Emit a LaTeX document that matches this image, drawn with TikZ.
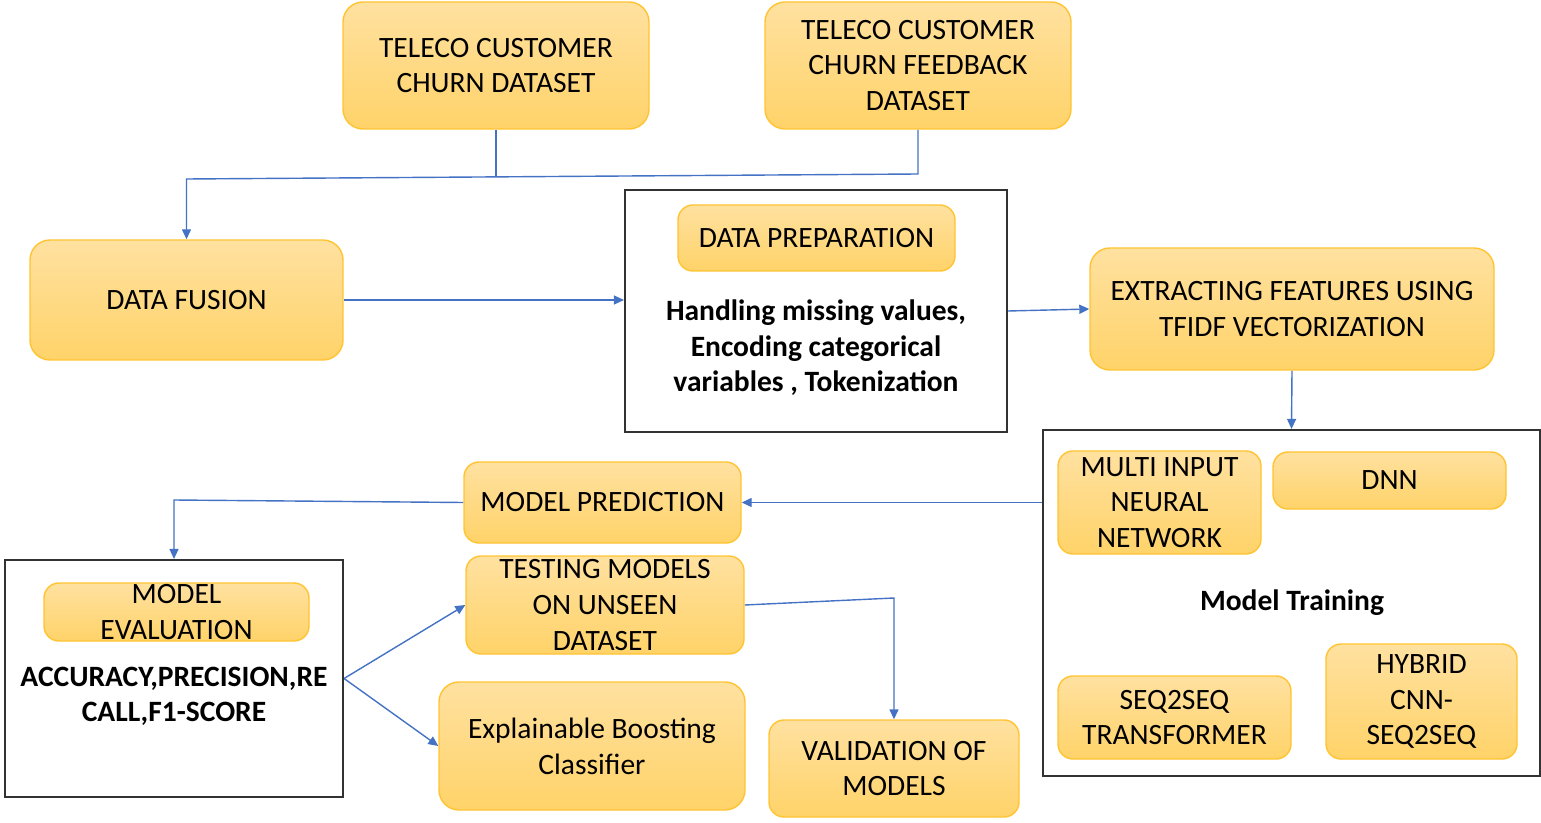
\documentclass[tikz,border=0pt]{standalone}
\usepackage{fontspec}
\setmainfont{Carlito}
\usetikzlibrary{arrows.meta}
\pgfdeclarelayer{edgelayer}
\pgfdeclarelayer{nodelayer}
\pgfsetlayers{edgelayer,nodelayer,main}
\definecolor{boxtop}{RGB}{255,225,160}
\definecolor{boxbottom}{RGB}{255,211,105}
\definecolor{boxborder}{RGB}{255,196,50}
\definecolor{edgeblue}{RGB}{68,114,196}
\definecolor{framegray}{RGB}{50,50,50}
\newcommand{\boxfont}{\fontsize{8.4}{10.2}\selectfont}
\newcommand{\boldboxfont}{\fontsize{8.4}{10.1}\selectfont\bfseries}
\tikzstyle{blueedge}=[draw=edgeblue, line width=0.4pt]
\tikzstyle{arrowedge}=[draw=edgeblue, line width=0.4pt, -{Triangle[length=1mm,width=0.9mm]}]
\tikzstyle{orangebox}=[rectangle, rounded corners=0.15cm, draw=boxborder, top color=boxtop, bottom color=boxbottom, align=center, inner sep=0pt, font=\boxfont]
\tikzstyle{frame}=[rectangle, draw=framegray, fill=white, line width=0.6pt, inner sep=0pt]
\tikzstyle{boldtext}=[align=center, inner sep=0pt, font=\boldboxfont]

\begin{document}
\begin{tikzpicture}
	\useasboundingbox (0,0) rectangle (15.41,-8.23);
	\begin{pgfonlayer}{nodelayer}
		\node [style=orangebox, rounded corners=0.2cm, minimum width=3.06cm, minimum height=1.27cm] (1) at (4.96, -0.655) {TELECO CUSTOMER\\CHURN DATASET};
		\node [style=orangebox, rounded corners=0.2cm, minimum width=3.06cm, minimum height=1.27cm] (2) at (9.18, -0.655) {TELECO CUSTOMER\\CHURN FEEDBACK\\DATASET};
		\node [style=orangebox, rounded corners=0.2cm, minimum width=3.13cm, minimum height=1.2cm] (3) at (1.865, -3.0) {DATA FUSION};
		\node [style=frame, minimum width=3.82cm, minimum height=2.42cm] (4) at (8.16, -3.11) {};
		\node [style=orangebox, minimum width=2.77cm, minimum height=0.66cm] (5) at (8.165, -2.38) {DATA PREPARATION};
		\node [style=boldtext] (6) at (8.16, -3.48) {Handling missing values,\\Encoding categorical\\variables , Tokenization};
		\node [style=orangebox, rounded corners=0.2cm, minimum width=4.04cm, minimum height=1.22cm] (7) at (12.92, -3.09) {EXTRACTING FEATURES USING\\TFIDF VECTORIZATION};
		\node [style=frame, minimum width=4.97cm, minimum height=3.46cm] (8) at (12.915, -6.03) {};
		\node [style=orangebox, minimum width=2.03cm, minimum height=1.03cm] (9) at (11.595, -5.025) {MULTI INPUT\\NEURAL\\NETWORK};
		\node [style=orangebox, minimum width=2.33cm, minimum height=0.57cm] (10) at (13.895, -4.805) {DNN};
		\node [style=boldtext] (11) at (12.92, -6.03) {Model Training};
		\node [style=orangebox, minimum width=2.33cm, minimum height=0.83cm] (12) at (11.745, -7.175) {SEQ2SEQ\\TRANSFORMER};
		\node [style=orangebox, minimum width=1.91cm, minimum height=1.15cm] (13) at (14.215, -7.015) {HYBRID\\CNN-\\SEQ2SEQ};
		\node [style=orangebox, minimum width=2.77cm, minimum height=0.81cm] (14) at (6.025, -5.025) {MODEL PREDICTION};
		\node [style=frame, minimum width=3.38cm, minimum height=2.37cm] (15) at (1.74, -6.785) {};
		\node [style=orangebox, minimum width=2.65cm, minimum height=0.58cm] (16) at (1.765, -6.12) {MODEL\\EVALUATION};
		\node [style=boldtext] (17) at (1.74, -6.965) {ACCURACY,PRECISION,RE\\CALL,F1-SCORE};
		\node [style=orangebox, minimum width=2.78cm, minimum height=0.98cm] (18) at (6.05, -6.05) {TESTING MODELS\\ON UNSEEN\\DATASET};
		\node [style=orangebox, rounded corners=0.2cm, minimum width=3.06cm, minimum height=1.28cm] (19) at (5.92, -7.46) {Explainable Boosting\\Classifier};
		\node [style=orangebox, minimum width=2.5cm, minimum height=0.97cm] (20) at (8.94, -7.685) {VALIDATION OF\\MODELS};
	\end{pgfonlayer}
	\begin{pgfonlayer}{edgelayer}
		\coordinate (c1) at (9.18, -1.74);
		\coordinate (c2) at (1.865, -1.79);
		\coordinate (c3) at (4.96, -1.765);
		\coordinate (c4) at (1.74, -5.0);
		\coordinate (c5) at (8.94, -5.98);
		\draw [style=blueedge] (1.south) to (c3);
		\draw [style=arrowedge] (2.south) to (c1) to (c2) to (3.north);
		\draw [style=arrowedge] (3.east) to (3.east -| 4.west);
		\draw [style=arrowedge] (4.east) to (7.west);
		\draw [style=arrowedge] (7.south) to (8.north);
		\draw [style=arrowedge] (14.east -| 8.west) to (14.east);
		\draw [style=arrowedge] (14.west) to (c4) to (15.north);
		\draw [style=arrowedge] (15.east) to (18.west);
		\draw [style=arrowedge] (15.east) to (19.west);
		\draw [style=arrowedge] (18.east) to (c5) to (20.north);
	\end{pgfonlayer}
\end{tikzpicture}
\end{document}
